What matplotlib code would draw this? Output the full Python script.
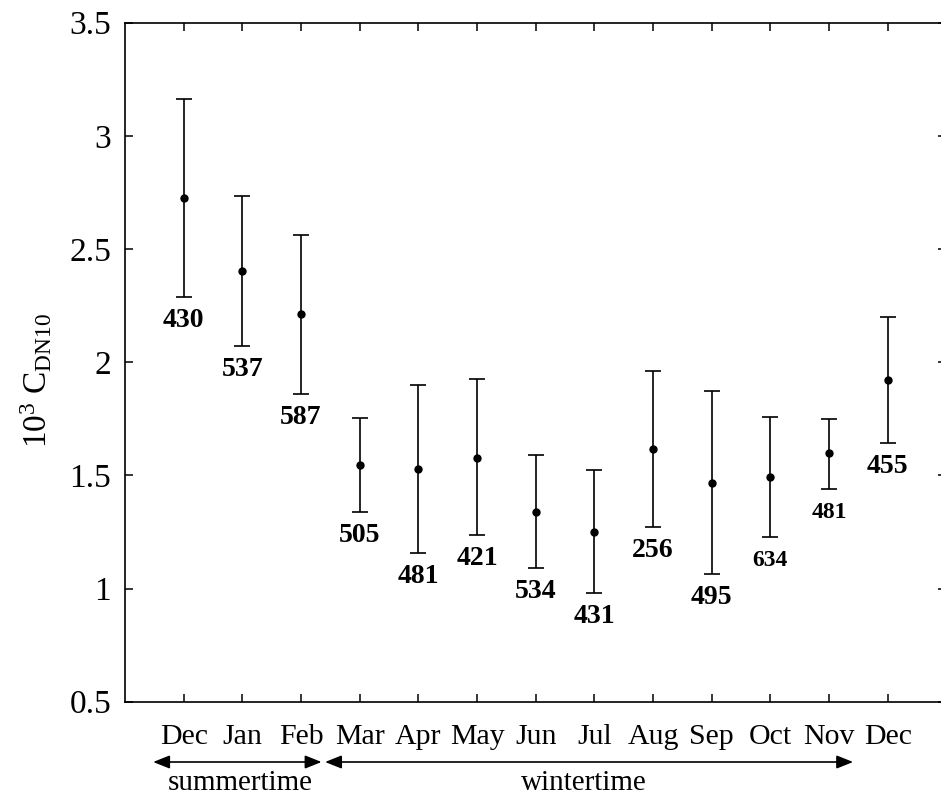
import matplotlib
matplotlib.use("Agg")
import matplotlib.pyplot as plt
import matplotlib.transforms as mtransforms
import numpy as np

months = ["Dec", "Jan", "Feb", "Mar", "Apr", "May", "Jun", "Jul", "Aug", "Sep", "Oct", "Nov", "Dec"]
mean_cd = [2.726, 2.405, 2.213, 1.546, 1.530, 1.578, 1.340, 1.251, 1.618, 1.466, 1.493, 1.598, 1.921]
upper_cd = [3.165, 2.735, 2.564, 1.754, 1.901, 1.926, 1.590, 1.524, 1.963, 1.872, 1.758, 1.751, 2.201]
lower_cd = [2.288, 2.073, 1.861, 1.337, 1.157, 1.235, 1.091, 0.979, 1.273, 1.064, 1.226, 1.441, 1.643]
counts = ["430", "537", "587", "505", "481", "421", "534", "431", "256", "495", "634", "481", "455"]
count_sizes = [20, 20, 20, 20, 20, 20, 20, 20, 20, 20, 17, 17, 20]
yticks = [0.5, 1, 1.5, 2, 2.5, 3, 3.5]
ytick_labels = ["0.5", "1", "1.5", "2", "2.5", "3", "3.5"]
seasons = ["summertime", "wintertime"]

plt.rcParams['font.family'] = ['Liberation Serif', 'DejaVu Serif']
plt.rcParams['mathtext.fontset'] = 'custom'
plt.rcParams['mathtext.rm'] = 'Liberation Serif'
plt.rcParams['mathtext.it'] = 'Liberation Serif:italic'
plt.rcParams['mathtext.bf'] = 'Liberation Serif:bold'

fig = plt.figure(figsize=(9.41, 7.98), dpi=100)
ax = fig.add_axes([125 / 941, 1 - 701.7 / 798, (946.4 - 125) / 941, (701.7 - 22.7) / 798])

x = np.arange(len(months))
mean = np.array(mean_cd)
err = np.vstack([mean - np.array(lower_cd), np.array(upper_cd) - mean])
ax.errorbar(x, mean, yerr=err, fmt='o', color='black', ecolor='black',
            markersize=5, elinewidth=1.2, capsize=6, capthick=1.2)

for xi, lo, txt, fs in zip(x, lower_cd, counts, count_sizes):
    ax.annotate(txt, xy=(xi, lo), xytext=(0, -17), textcoords='offset points',
                ha='center', va='center', fontsize=fs, fontweight='bold')

ax.set_xlim(-1, 13)
ax.set_ylim(0.5, 3.5)
ax.set_xticks(x)
ax.set_xticklabels(months, fontsize=21.5)
ax.set_yticks(yticks)
ax.set_yticklabels(ytick_labels, fontsize=24)
ax.tick_params(axis='both', direction='in', length=6, width=1.1,
               top=True, right=True)
ax.tick_params(axis='y', pad=10)
ax.tick_params(axis='x', pad=16)
for s in ax.spines.values():
    s.set_linewidth(1.2)

fig.text(36 / 941, 1 - 381 / 798, r'$\mathrm{10^3\ C_{DN10}}$', fontsize=24,
         rotation=90, ha='center', va='center')

trans = mtransforms.blended_transform_factory(ax.transData, ax.transAxes)
arrow_y = -(762 - 701.7) / (701.7 - 22.7)
text_y = -(783 - 701.7) / (701.7 - 22.7)
arrowprops = dict(arrowstyle='<|-|>,head_length=1.0,head_width=0.4',
                  color='black', lw=1.2, shrinkA=0, shrinkB=0)
ax.annotate('', xy=(-0.52, arrow_y), xytext=(2.35, arrow_y), xycoords=trans,
            textcoords=trans, arrowprops=arrowprops, annotation_clip=False)
ax.annotate('', xy=(2.41, arrow_y), xytext=(11.41, arrow_y), xycoords=trans,
            textcoords=trans, arrowprops=arrowprops, annotation_clip=False)
ax.text(0.96, text_y, seasons[0], transform=trans, ha='center', va='center',
        fontsize=21, clip_on=False)
ax.text(6.82, text_y, seasons[1], transform=trans, ha='center', va='center',
        fontsize=21, clip_on=False)

fig.savefig('out.png', dpi=100)
